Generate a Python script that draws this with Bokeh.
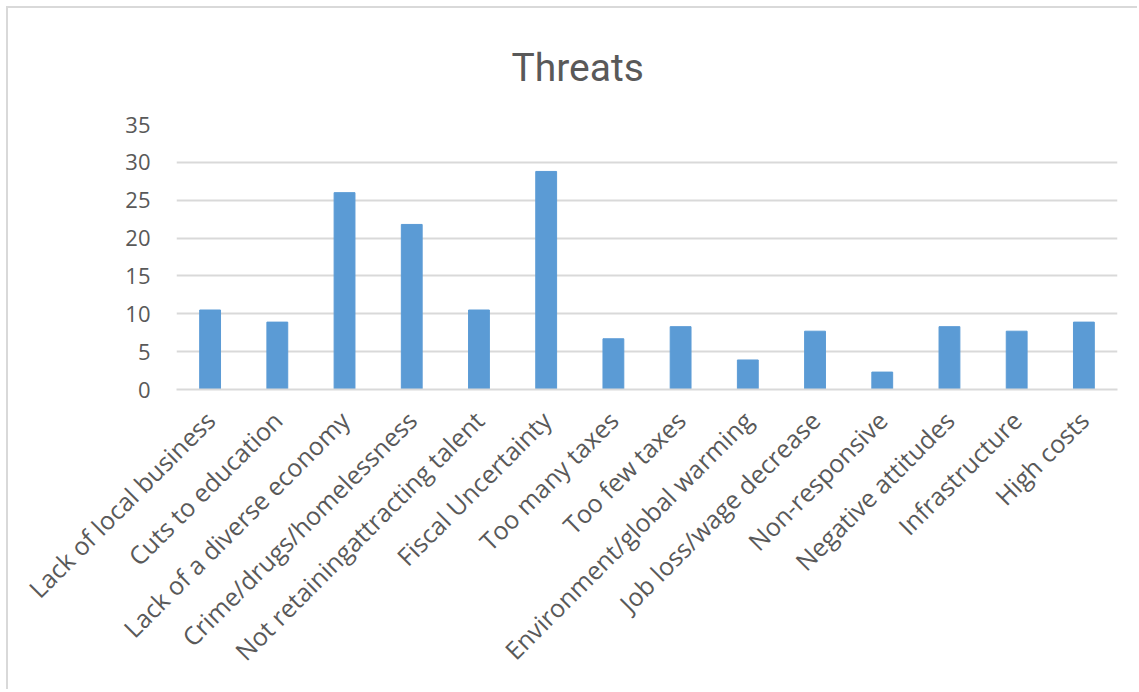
import math
from bokeh.plotting import figure
from bokeh.models import Range1d, FactorRange, ColumnDataSource
from bokeh.embed import file_html
from bokeh.resources import INLINE

categories = [
    "Lack of local business", "Cuts to education", "Lack of a diverse economy",
    "Crime/drugs/homelessness", "Not retainingattracting talent", "Fiscal Uncertainty",
    "Too many taxes", "Too few taxes", "Environment/global warming",
    "Job loss/wage decrease", "Non-responsive", "Negative attitudes",
    "Infrastructure", "High costs",
]
values = [10.5, 8.9, 26.0, 21.8, 10.5, 28.8, 6.7, 8.3, 3.9, 7.7, 2.3, 8.3, 7.7, 8.9]
y_ticks = [0, 5, 10, 15, 20, 25, 30, 35]

TEXT = "#595959"
FONT = "Open Sans"

src = ColumnDataSource(dict(cat=categories, val=values))

p = figure(
    x_range=FactorRange(*categories, range_padding=0),
    y_range=Range1d(0, 35),
    frame_width=941, frame_height=265,
    min_border_left=168, min_border_right=20,
    min_border_top=116, min_border_bottom=300,
    output_backend="svg", toolbar_location=None,
    title="Threats",
)
p.vbar(x="cat", top="val", width=0.31, source=src,
       fill_color="#5b9bd5", line_color="#5b9bd5")

p.title.align = "left"
p.title.offset = 335
p.title.text_font = "Roboto"
p.title.text_font_size = "39px"
p.title.text_font_style = "normal"
p.title.text_color = TEXT
p.title.standoff = 68

p.outline_line_color = None
p.background_fill_color = "white"
p.border_fill_color = "white"

p.xgrid.grid_line_color = None
p.ygrid.grid_line_color = "#d9d9d9"
p.ygrid.grid_line_width = 2
p.yaxis.ticker = y_ticks
p.yaxis.axis_line_color = None
p.yaxis.major_tick_line_color = None
p.yaxis.minor_tick_line_color = None
p.yaxis.major_label_standoff = 20
p.yaxis.major_label_text_font = FONT
p.yaxis.major_label_text_font_size = "22px"
p.yaxis.major_label_text_color = TEXT

p.xaxis.axis_line_color = "#d9d9d9"
p.xaxis.axis_line_width = 2
p.xaxis.major_tick_line_color = None
p.xaxis.minor_tick_line_color = None
p.xaxis.major_label_orientation = math.pi / 4
p.xaxis.major_label_standoff = 20
p.xaxis.major_label_text_font = FONT
p.xaxis.major_label_text_font_size = "25px"
p.xaxis.major_label_text_color = TEXT

p.styles = {"border-left": "2px solid #d9d9d9", "border-top": "2px solid #d9d9d9",
            "margin-left": "6px", "margin-top": "6px"}

open("out.html", "w").write(file_html(p, INLINE))
